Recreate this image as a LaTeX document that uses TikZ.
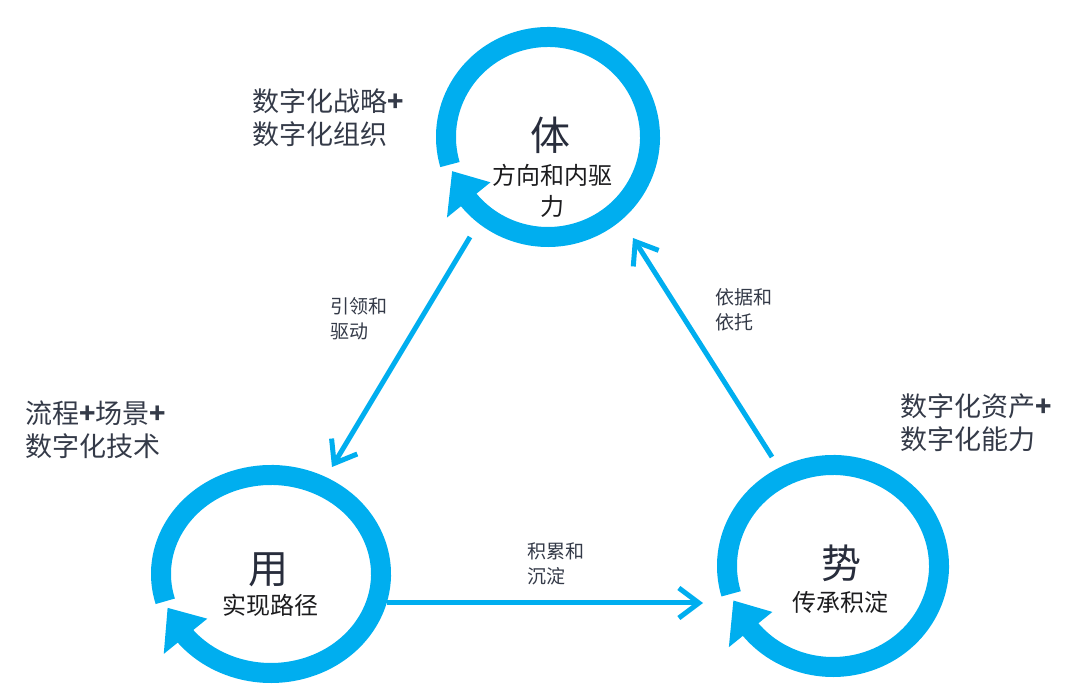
\documentclass[tikz,border=0pt]{standalone}
\usepackage{fontspec}
\setmainfont{Noto Sans CJK SC}
\usetikzlibrary{calc,arrows.meta}
\definecolor{ringblue}{RGB}{0,174,239}
\definecolor{labelgray}{RGB}{52,58,72}
\definecolor{titlegray}{RGB}{40,45,60}
\definecolor{subblack}{RGB}{28,28,30}

\begin{document}
\begin{tikzpicture}[x=1pt,y=1pt,
    ring/.style={ringblue, line width=20pt},
    link/.style={ringblue, line width=5pt, -{Straight Barb[length=20pt,width=30pt]}},
    big/.style={font=\fontsize{40}{40}\selectfont, text=titlegray, inner sep=0pt},
    sub/.style={font=\fontsize{24}{31}\selectfont, text=subblack, align=center, inner sep=0pt},
    tag/.style={font=\fontsize{27}{33}\selectfont, text=labelgray, align=left, anchor=west, inner sep=0pt},
    note/.style={font=\fontsize{19}{25}\selectfont, text=labelgray, align=left, anchor=west, inner sep=0pt}]
    \useasboundingbox (0,0) rectangle (1080,699);

    \coordinate (ti) at (548,562);
    \coordinate (yong) at (271,125);
    \coordinate (shi) at (833,133);

    % rings with arrowheads
    \foreach \c/\rx/\ry in {ti/102/100, yong/110/99, shi/106/101} {
        \pgfmathsetmacro{\ox}{\rx+28}
        \pgfmathsetmacro{\oy}{\ry+28}
        \pgfmathsetmacro{\ix}{\rx-28}
        \pgfmathsetmacro{\iy}{\ry-28}
        \draw[ring] ($(\c)+({\rx*cos(196)},{\ry*sin(196)})$) arc[start angle=196, end angle=-145, x radius=\rx, y radius=\ry];
        \fill[ringblue] ($(\c)+({\ox*cos(219)},{\oy*sin(219)})$) -- ($(\c)+({\rx*cos(200)},{\ry*sin(200)})$) -- ($(\c)+({\ix*cos(219)},{\iy*sin(219)})$) -- cycle;
    }

    \node[big] (ti-big) at (550,564) {体};
    \node[sub] (ti-sub) at (552,508.5) {方向和内驱\\力};
    \node[big] (yong-big) at (268,129) {用};
    \node[sub] (yong-sub) at (270,94) {实现路径};
    \node[big] (shi-big) at (841,136) {势};
    \node[sub] (shi-sub) at (840,97) {传承积淀};

    \node[tag] (ti-tag) at (252,581.5) {数字化战略\textbf{+}\\数字化组织};
    \node[tag] (yong-tag) at (25,269.5) {流程\textbf{+}场景\textbf{+}\\数字化技术};
    \node[tag] (shi-tag) at (900,276) {数字化资产\textbf{+}\\数字化能力};

    \coordinate (ti-out) at (470,462);
    \coordinate (yong-in) at (332,232);
    \coordinate (yong-out) at (387,96);
    \coordinate (shi-in) at (703,96);
    \coordinate (shi-out) at (772,242);
    \coordinate (ti-in) at (633,461);

    \draw[link] (ti-out) -- (yong-in);
    \draw[link] (yong-out) -- (shi-in);
    \draw[link] (shi-out) -- (ti-in);

    \node[note] (lead) at (330,380.5) {引领和\\驱动};
    \node[note] (base) at (715,389.5) {依据和\\依托};
    \node[note] (pile) at (527,135.5) {积累和\\沉淀};
\end{tikzpicture}
\end{document}
